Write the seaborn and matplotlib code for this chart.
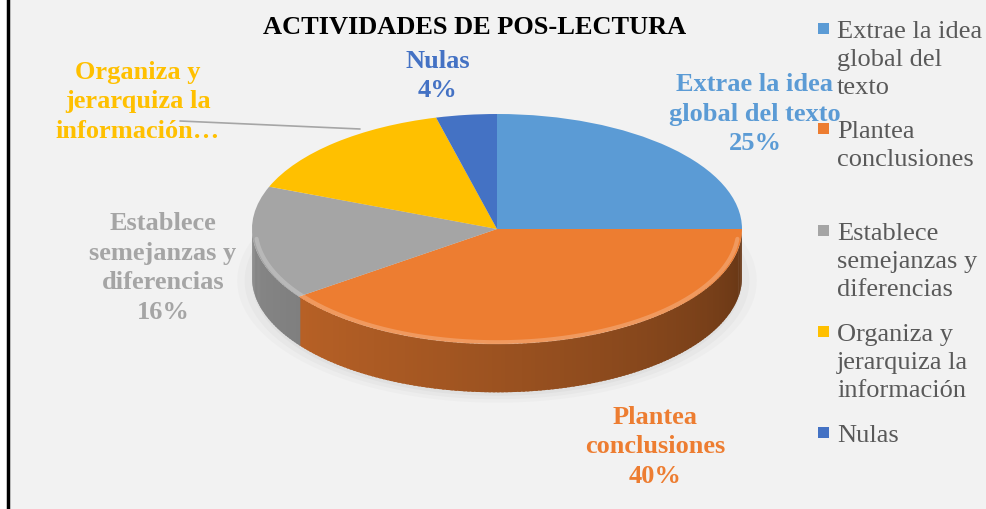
import numpy as np
import matplotlib
matplotlib.use("Agg")
import matplotlib.pyplot as plt
import seaborn as sns
from matplotlib.patches import Rectangle
from matplotlib.lines import Line2D
from matplotlib.colors import to_rgb

sns.set_style("white")
plt.rcParams['font.family'] = ['Liberation Serif', 'DejaVu Serif']

# ---- data ----
categories = ["Extrae la idea global del texto", "Plantea conclusiones",
              "Establece semejanzas y diferencias", "Organiza y jerarquiza la información",
              "Nulas"]
values = [25, 40, 16, 15, 4]
legend_labels = ["Extrae la idea\nglobal del\ntexto", "Plantea\nconclusiones",
                 "Establece\nsemejanzas y\ndiferencias", "Organiza y\njerarquiza la\ninformación",
                 "Nulas"]
data_labels = ["Extrae la idea\nglobal del texto\n25%", "Plantea\nconclusiones\n40%",
               "Establece\nsemejanzas y\ndiferencias\n16%", "Organiza y\njerarquiza la\ninformación…",
               "Nulas\n4%"]
colors = ["#5B9BD5", "#ED7D31", "#A5A5A5", "#FFC000", "#4472C4"]
title = "ACTIVIDADES DE POS-LECTURA"

W, H = 987, 510
fig = plt.figure(figsize=(W / 100, H / 100), dpi=100, facecolor="white")

def fx(x):
    return x / W

def fy(y):
    return 1 - y / H

# chart area background + border
fig.add_artist(Rectangle((fx(8), fy(H + 20)), fx(W + 20), (6.5 + H + 20) / H,
                         transform=fig.transFigure, facecolor="#F2F2F2",
                         edgecolor="black", linewidth=2.5, zorder=0))

# ---- pie axes (ellipse by unequal scale) ----
cx, cy, rx, ry = 497, 230, 245, 115
depth = 0.42
x0, x1 = -1.25, 1.25
y0, y1 = -1.85, 1.25
left = cx + x0 * rx
top = cy - y1 * ry
ax = fig.add_axes([fx(left), fy(top + (y1 - y0) * ry), (x1 - x0) * rx / W, (y1 - y0) * ry / H])
ax.set_facecolor("none")

# soft shadow under the pie
for k, a in zip([1.06, 1.03, 1.0], [0.05, 0.07, 0.09]):
    t = np.linspace(0, 2 * np.pi, 200)
    ax.fill(k * np.cos(t), k * np.sin(t) - depth - 0.03, color="#9a9a9a", alpha=a,
            linewidth=0, zorder=1)

# side band (front half), drawn from data angles
fracs = np.array(values) / np.sum(values)
start = 90.0
for v, c in zip(fracs, colors):
    a_start = start
    a_end = start - v * 360
    start = a_end
    lo, hi = max(a_end, -180), min(a_start, 0)
    if lo < hi:
        steps = np.linspace(lo, hi, max(int(hi - lo), 2) + 1)
        for s0, s1 in zip(steps[:-1], steps[1:]):
            t = np.radians(np.linspace(s0, s1 + 0.6, 4))
            xs = np.concatenate([np.cos(t), np.cos(t[::-1])])
            ys = np.concatenate([np.sin(t), np.sin(t[::-1]) - depth])
            mid = (s0 + s1) / 2
            pos = (mid + 180) / 180  # 0 at left, 1 at right
            shade = 0.82 - 0.40 * pos ** 1.3
            col = tuple(np.array(to_rgb(c)) * shade)
            ax.fill(xs, ys, color=col, linewidth=0, zorder=2)

wedges, _ = ax.pie(values, colors=colors, startangle=90, counterclock=False,
                   wedgeprops=dict(linewidth=0, zorder=3))
for w in wedges:
    w.set_zorder(3)

# bevel highlight on the front rim
t = np.radians(np.linspace(-175, -5, 200))
ax.plot(0.985 * np.cos(t), 0.985 * np.sin(t), color="white", alpha=0.22, lw=3, zorder=4)

ax.set_aspect("auto")
ax.set_xlim(x0, x1)
ax.set_ylim(y0, y1)
ax.axis("off")

# ---- title ----
fig.text(fx(475), fy(28), title, ha="center", va="center", fontsize=19,
         fontweight="bold", color="black")

# ---- data labels ----
label_pos = [(755, 114), (655, 447), (163, 268), (138, 102), (438, 76)]
for lab, (x, y), c in zip(data_labels, label_pos, colors):
    fig.text(fx(x), fy(y), lab, ha="center", va="center", fontsize=19,
             fontweight="bold", color=c, linespacing=1.36)

# leader line for "Organiza y jerarquiza"
fig.add_artist(Line2D([fx(180), fx(360)], [fy(122), fy(130)], transform=fig.transFigure,
                      color="#A6A6A6", lw=1.2))

# ---- legend ----
leg_y = [30, 130, 232, 333, 434]
for lab, y, c in zip(legend_labels, leg_y, colors):
    fig.add_artist(Rectangle((fx(818), fy(y + 5)), 11 / W, 11 / H, transform=fig.transFigure,
                             facecolor=c, edgecolor="none"))
    fig.text(fx(837), fy(y - 9), lab, ha="left", va="top", fontsize=19,
             color="#595959", linespacing=1.36)

fig.savefig("out.png", dpi=100, facecolor="white")
